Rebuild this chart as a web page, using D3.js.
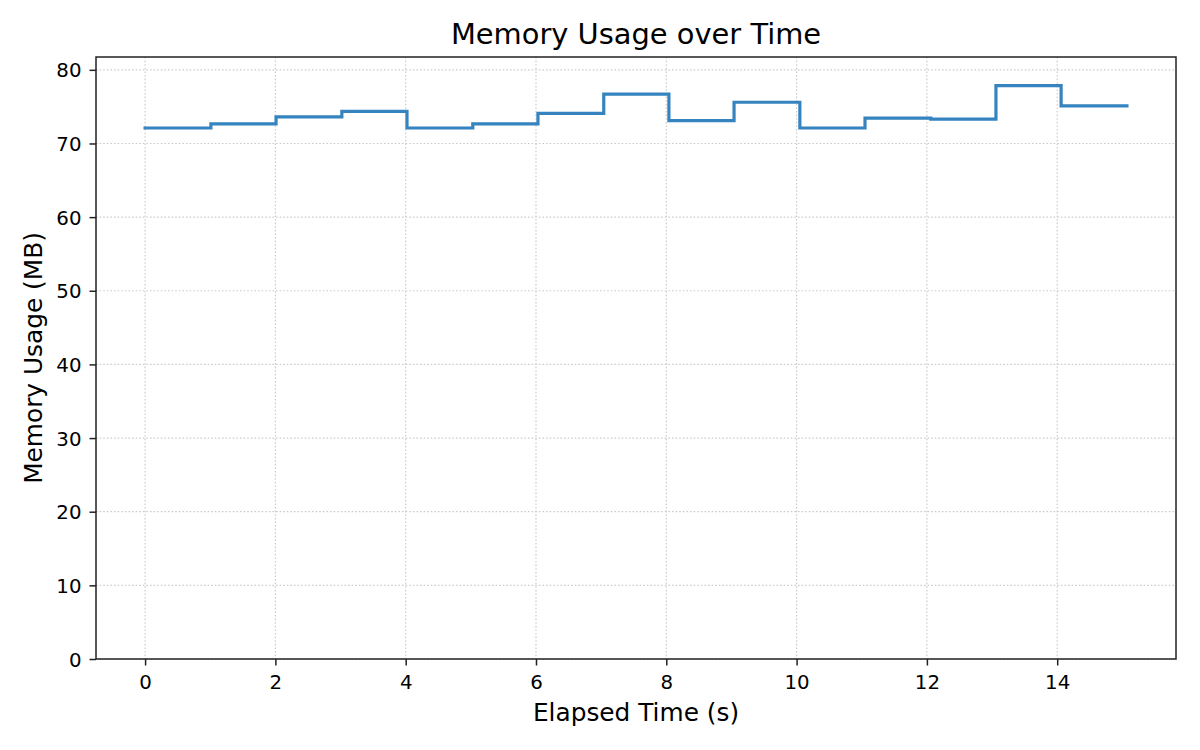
<!DOCTYPE html>
<html>
<head>
<meta charset="utf-8">
<script src="https://cdn.jsdelivr.net/npm/d3@7"></script>
<style>
  body { margin: 0; background: #fff; }
  svg { display: block; font-family: 'DejaVu Sans', sans-serif; }
</style>
</head>
<body>
<svg id="chart" width="1200" height="750"></svg>
<script>
// elapsed seconds of each sample and memory reading (MB)
const times = [0, 1.01, 2.01, 3.02, 4.02, 5.03, 6.03, 7.04, 8.04, 9.04, 10.05, 11.05, 12.06, 13.06, 14.06, 15.07];
const memory = [72.1, 72.65, 73.6, 74.35, 72.1, 72.65, 74.1, 76.7, 73.1, 75.6, 72.1, 73.45, 73.3, 77.85, 75.1, 75.1];
const xTicks = [0, 2, 4, 6, 8, 10, 12, 14];
const yTicks = [0, 10, 20, 30, 40, 50, 60, 70, 80];

const width = 1200;
const height = 750;
const marginTop = 57;
const marginRight = 24;
const marginBottom = 91;
const marginLeft = 96;

const data = times.map((t, i) => ({ t, v: memory[i] }));

const svg = d3.select('#chart');

svg.append('rect').attr('width', width).attr('height', height).attr('fill', '#fff');

// matplotlib-style 5% margins on x, y from 0 to max * 1.05
const tMax = d3.max(times);
const x = d3
  .scaleLinear()
  .domain([-0.05 * tMax, tMax * 1.05])
  .range([marginLeft, width - marginRight]);

const y = d3
  .scaleLinear()
  .domain([0, d3.max(memory) * 1.05])
  .range([height - marginBottom, marginTop]);

// grid
const grid = svg.append('g').attr('class', 'grid')
  .attr('stroke', '#cccccc')
  .attr('stroke-width', 1.2)
  .attr('stroke-dasharray', '1.6,2');

grid.selectAll('.gx')
  .data(xTicks)
  .join('line')
  .attr('class', 'gx')
  .attr('x1', (d) => x(d)).attr('x2', (d) => x(d))
  .attr('y1', marginTop).attr('y2', height - marginBottom);

grid.selectAll('.gy')
  .data(yTicks)
  .join('line')
  .attr('class', 'gy')
  .attr('x1', marginLeft).attr('x2', width - marginRight)
  .attr('y1', (d) => y(d)).attr('y2', (d) => y(d));

// step line
const line = d3.line()
  .x((d) => x(d.t))
  .y((d) => y(d.v))
  .curve(d3.curveStepAfter);

svg.append('path')
  .datum(data)
  .attr('fill', 'none')
  .attr('stroke', '#3584bf')
  .attr('stroke-width', 3.2)
  .attr('stroke-linejoin', 'miter')
  .attr('stroke-linecap', 'square')
  .attr('d', line);

// axes
const xAxis = svg.append('g')
  .attr('transform', `translate(0,${height - marginBottom})`)
  .call(d3.axisBottom(x).tickValues(xTicks).tickSize(6.5).tickPadding(9).tickSizeOuter(0));

const yAxis = svg.append('g')
  .attr('transform', `translate(${marginLeft},0)`)
  .call(d3.axisLeft(y).tickValues(yTicks).tickSize(6.5).tickPadding(8).tickSizeOuter(0));

[xAxis, yAxis].forEach((g) => {
  g.select('.domain').remove();
  g.selectAll('.tick line').attr('stroke', '#222').attr('stroke-width', 1.5);
  g.selectAll('.tick text')
    .attr('fill', '#000')
    .attr('font-family', 'DejaVu Sans')
    .attr('font-size', 19.8);
});
yAxis.selectAll('.tick text').attr('dy', '0.36em');
xAxis.selectAll('.tick text').attr('dy', '0.73em');

// frame
svg.append('rect')
  .attr('x', marginLeft)
  .attr('y', marginTop)
  .attr('width', width - marginLeft - marginRight)
  .attr('height', height - marginTop - marginBottom)
  .attr('fill', 'none')
  .attr('stroke', '#222')
  .attr('stroke-width', 1.5);

// labels
svg.append('text')
  .attr('x', (marginLeft + width - marginRight) / 2)
  .attr('y', 44.3)
  .attr('text-anchor', 'middle')
  .attr('font-size', 28.9)
  .text('Memory Usage over Time');

svg.append('text')
  .attr('x', (marginLeft + width - marginRight) / 2)
  .attr('y', 721)
  .attr('text-anchor', 'middle')
  .attr('font-size', 24.8)
  .text('Elapsed Time (s)');

svg.append('text')
  .attr('transform', `translate(41.7,${(marginTop + height - marginBottom) / 2}) rotate(-90)`)
  .attr('text-anchor', 'middle')
  .attr('font-size', 24.8)
  .text('Memory Usage (MB)');
</script>
</body>
</html>
